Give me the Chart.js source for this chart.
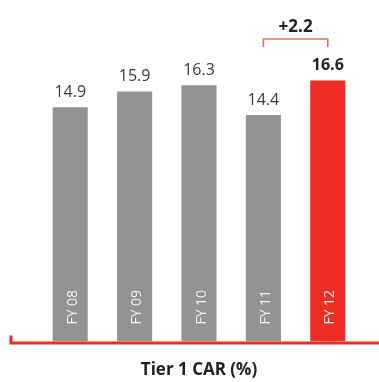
<!DOCTYPE html>
<html>
<head>
<meta charset="utf-8">
<script src="https://cdn.jsdelivr.net/npm/chart.js@4"></script>
<style>
  html, body { margin: 0; padding: 0; background: #fff; }
  #wrap { width: 379px; height: 382px; }
</style>
</head>
<body>
<div id="wrap"><canvas id="carChart" width="379" height="382"></canvas></div>
<script>
// Tier 1 capital adequacy ratio by fiscal year
const years = ['FY 08', 'FY 09', 'FY 10', 'FY 11', 'FY 12'];
const tier1Car = [14.9, 15.9, 16.3, 14.4, 16.6];
const growthLabel = '+2.2';

const grey = '#939396';
const red = '#ee2e24';
const barColors = years.map((y, i) => i === years.length - 1 ? red : grey);

// labels, growth bracket and base line
const annotate = {
    id: 'annotate',
    afterDatasetsDraw(chart) {
        const ctx = chart.ctx;
        const xs = chart.scales.x;
        const ys = chart.scales.y;
        const last = years.length - 1;
        const base = ys.getPixelForValue(0);
        ctx.save();

        // value above each bar
        tier1Car.forEach((v, i) => {
            const x = xs.getPixelForValue(i);
            const y = ys.getPixelForValue(v);
            ctx.font = (i === last ? 'bold ' : '') + '16px "Open Sans"';
            ctx.fillStyle = i === last ? '#222' : '#3a3a3a';
            ctx.textAlign = 'center';
            ctx.textBaseline = 'alphabetic';
            ctx.fillText(v.toFixed(1), x, y - 10);
        });

        // year written up inside each bar
        years.forEach((label, i) => {
            const x = xs.getPixelForValue(i);
            ctx.save();
            ctx.translate(x + 6.5, base - 17);
            ctx.rotate(-Math.PI / 2);
            ctx.font = '14px "Open Sans"';
            ctx.fillStyle = '#f2f2f2';
            ctx.textAlign = 'left';
            ctx.textBaseline = 'alphabetic';
            ctx.fillText(label, 0, 0);
            ctx.restore();
        });

        // bracket between the last two years
        const x1 = xs.getPixelForValue(last - 1);
        const x2 = xs.getPixelForValue(last);
        ctx.strokeStyle = '#f06a64';
        ctx.lineWidth = 1.6;
        ctx.beginPath();
        ctx.moveTo(x1, 47);
        ctx.lineTo(x1, 39);
        ctx.lineTo(x2, 39);
        ctx.lineTo(x2, 47);
        ctx.stroke();
        ctx.font = 'bold 17px "Open Sans"';
        ctx.fillStyle = '#222';
        ctx.textAlign = 'center';
        ctx.fillText(growthLabel, (x1 + x2) / 2, 32);

        // red base line with a small tick at the left end
        ctx.strokeStyle = red;
        ctx.lineWidth = 3;
        ctx.beginPath();
        ctx.moveTo(11, base - 6);
        ctx.lineTo(11, base + 1.5);
        ctx.lineTo(chart.width, base + 1.5);
        ctx.stroke();
        ctx.restore();
    }
};

const ctxCar = document.getElementById('carChart').getContext('2d');
const carChart = new Chart(ctxCar, {
    type: 'bar',
    data: {
        labels: years,
        datasets: [{
            label: 'Tier 1 CAR (%)',
            data: tier1Car,
            backgroundColor: barColors,
            borderWidth: 0,
            categoryPercentage: 1,
            barPercentage: 0.545
        }]
    },
    options: {
        responsive: false,
        animation: false,
        layout: { padding: { left: 38, right: 19, top: 27, bottom: 0 } },
        scales: {
            x: { display: false },
            y: { display: false, min: 0, max: 20 }
        },
        plugins: {
            legend: { display: false },
            tooltip: { enabled: false },
            title: {
                display: true,
                text: 'Tier 1 CAR (%)',
                position: 'bottom',
                fullSize: false,
                color: '#222',
                font: { family: '"Open Sans"', size: 17, weight: 'bold', lineHeight: 1.2 },
                padding: { top: 18, bottom: 2 }
            }
        }
    },
    plugins: [annotate]
});
</script>
</body>
</html>
